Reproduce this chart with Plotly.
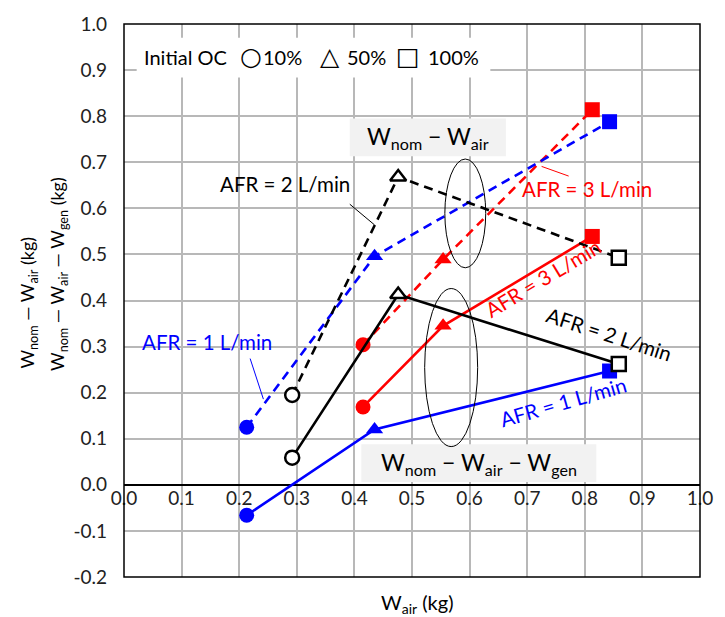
import plotly.graph_objects as go

# ---- data (W_air in kg; mass differences in kg) ----
oc_labels = ["10%", "50%", "100%"]
symbols = ["circle", "triangle-up", "square"]

afr1_x = [0.213, 0.435, 0.843]
afr2_x = [0.292, 0.476, 0.859]
afr3_x = [0.415, 0.554, 0.813]

# W_nom - W_air (dashed)
afr1_dash_y = [0.125, 0.496, 0.788]
afr2_dash_y = [0.195, 0.668, 0.493]
afr3_dash_y = [0.304, 0.489, 0.814]

# W_nom - W_air - W_gen (solid)
afr1_solid_y = [-0.066, 0.120, 0.247]
afr2_solid_y = [0.059, 0.413, 0.262]
afr3_solid_y = [0.169, 0.345, 0.539]

x_ticks = [round(0.1 * i, 1) for i in range(11)]
y_ticks = [round(-0.2 + 0.1 * i, 1) for i in range(13)]

FONT = "Lato, DejaVu Sans"
BLUE = "#0000FF"
RED = "#FF0000"
BLACK = "#000000"
GRID = "#b8b8b8"

fig = go.Figure()


def add_series(x, y, color, dash, filled):
    if filled:
        marker = dict(symbol=symbols, size=15, color=color, line=dict(width=0, color=color))
    else:
        marker = dict(symbol=symbols, size=14, color="white", line=dict(width=2.5, color=color))
    fig.add_trace(go.Scatter(
        x=x, y=y, mode="lines+markers",
        line=dict(color=color, width=2.6, dash=dash),
        marker=marker, showlegend=False, hoverinfo="x+y",
    ))


DASH = "9px,6px"
add_series(afr3_x, afr3_dash_y, RED, DASH, True)
add_series(afr3_x, afr3_solid_y, RED, "solid", True)
add_series(afr1_x, afr1_dash_y, BLUE, DASH, True)
add_series(afr1_x, afr1_solid_y, BLUE, "solid", True)
add_series(afr2_x, afr2_dash_y, BLACK, DASH, False)
add_series(afr2_x, afr2_solid_y, BLACK, "solid", False)

shapes = []
# legend-like white box
shapes.append(dict(type="rect", xref="x", yref="y", x0=0.022, x1=0.636, y0=0.884, y1=0.970,
                   fillcolor="white", line=dict(width=0), layer="between"))
# grey label boxes
shapes.append(dict(type="rect", xref="x", yref="y", x0=0.392, x1=0.663, y0=0.713, y1=0.795,
                   fillcolor="#f2f2f2", line=dict(width=0), layer="between"))
shapes.append(dict(type="rect", xref="x", yref="y", x0=0.412, x1=0.820, y0=0.006, y1=0.088,
                   fillcolor="#f2f2f2", line=dict(width=0), layer="between"))
# ellipses
shapes.append(dict(type="circle", xref="x", yref="y", x0=0.557, x1=0.628, y0=0.471, y1=0.707,
                   line=dict(color="black", width=1)))
shapes.append(dict(type="circle", xref="x", yref="y", x0=0.522, x1=0.614, y0=0.083, y1=0.426,
                   line=dict(color="black", width=1)))
# leader lines
shapes.append(dict(type="line", xref="x", yref="y", x0=0.392, y0=0.609, x1=0.435, y1=0.564,
                   line=dict(color="black", width=1)))
shapes.append(dict(type="line", xref="x", yref="y", x0=0.725, y0=0.691, x1=0.772, y1=0.670,
                   line=dict(color=RED, width=1)))
shapes.append(dict(type="line", xref="x", yref="y", x0=0.219, y0=0.274, x1=0.242, y1=0.186,
                   line=dict(color=BLUE, width=1)))
# plot border
shapes.append(dict(type="rect", xref="paper", yref="paper", x0=0, x1=1, y0=0, y1=1,
                   line=dict(color="black", width=1.5), layer="above"))

annotations = []


def txt(x, y, text, color="black", size=18, angle=0, xref="x", yref="y", family=FONT, **kw):
    annotations.append(dict(x=x, y=y, xref=xref, yref=yref, text=text, showarrow=False,
                            textangle=angle, font=dict(family=family, size=size, color=color), **kw))


# "legend" text line
LEG_Y = 0.929
txt(0.032, LEG_Y, "Initial OC", size=20, xanchor="left", yanchor="middle")
txt(0.220, LEG_Y, "\u25CB", size=25, family="DejaVu Sans", xanchor="center", yanchor="middle")
txt(0.238, LEG_Y, "10%", size=20, xanchor="left", yanchor="middle")
txt(0.357, LEG_Y, "\u25B3", size=25, family="DejaVu Sans", xanchor="center", yanchor="middle")
txt(0.384, LEG_Y, "50%", size=20, xanchor="left", yanchor="middle")
txt(0.493, LEG_Y, "\u25A1", size=25, family="DejaVu Sans", xanchor="center", yanchor="middle")
txt(0.524, LEG_Y, "100%", size=20, xanchor="left", yanchor="middle")

txt(0.527, 0.754, "W<sub>nom</sub> \u2212 W<sub>air</sub>", size=23)
txt(0.616, 0.047, "W<sub>nom</sub> \u2212 W<sub>air</sub> \u2212 W<sub>gen</sub>", size=23)

AFS = 20.5
txt(0.279, 0.652, "AFR = 2 L/min", size=AFS)
txt(0.804, 0.641, "AFR = 3 L/min", color=RED, size=AFS)
txt(0.144, 0.311, "AFR = 1 L/min", color=BLUE, size=AFS)
txt(0.728, 0.448, "AFR = 3 L/min", color=RED, size=AFS, angle=-31)
txt(0.842, 0.327, "AFR = 2 L/min", size=AFS, angle=18)
txt(0.762, 0.180, "AFR = 1 L/min", color=BLUE, size=AFS, angle=-16)

# axis titles
txt((27 - 124) / 588, (577 - 368) / 560, "W<sub>nom</sub> \u2014 W<sub>air</sub> (kg)", size=18, angle=-90,
    xref="paper", yref="paper", xanchor="center", yanchor="bottom")
txt((57 - 124) / 588, (577 - 370) / 560, "W<sub>nom</sub> \u2014 W<sub>air</sub> \u2014 W<sub>gen</sub> (kg)", size=18,
    angle=-90, xref="paper", yref="paper", xanchor="center", yanchor="bottom")
txt(0.51, (577 - 604) / 560, "W<sub>air</sub> (kg)", size=20, xref="paper", yref="paper",
    xanchor="center", yanchor="middle")

fig.update_layout(
    width=725, height=617,
    margin=dict(l=124, r=13, t=17, b=40),
    paper_bgcolor="white", plot_bgcolor="white",
    shapes=shapes, annotations=annotations,
    font=dict(family=FONT, size=19, color="#222"),
    xaxis=dict(range=[0, 1.0], tickvals=x_ticks, ticktext=[f"{v:.1f}" for v in x_ticks],
               showgrid=True, gridcolor=GRID, gridwidth=1.5, zeroline=False,
               showline=False, ticks="", anchor="free", position=1 / 6,
               ticklabeloverflow="allow",
               tickfont=dict(family=FONT, size=19, color="#222")),
    yaxis=dict(range=[-0.2, 1.0], tickvals=y_ticks, ticktext=[f"{v:.1f}" for v in y_ticks],
               showgrid=True, gridcolor=GRID, gridwidth=1.5, zeroline=True,
               zerolinecolor="black", zerolinewidth=1.5, showline=False, ticks="",
               ticklabelstandoff=16, domain=[0, 1],
               tickfont=dict(family=FONT, size=19, color="#222")),
)

fig.write_html("out.html")
